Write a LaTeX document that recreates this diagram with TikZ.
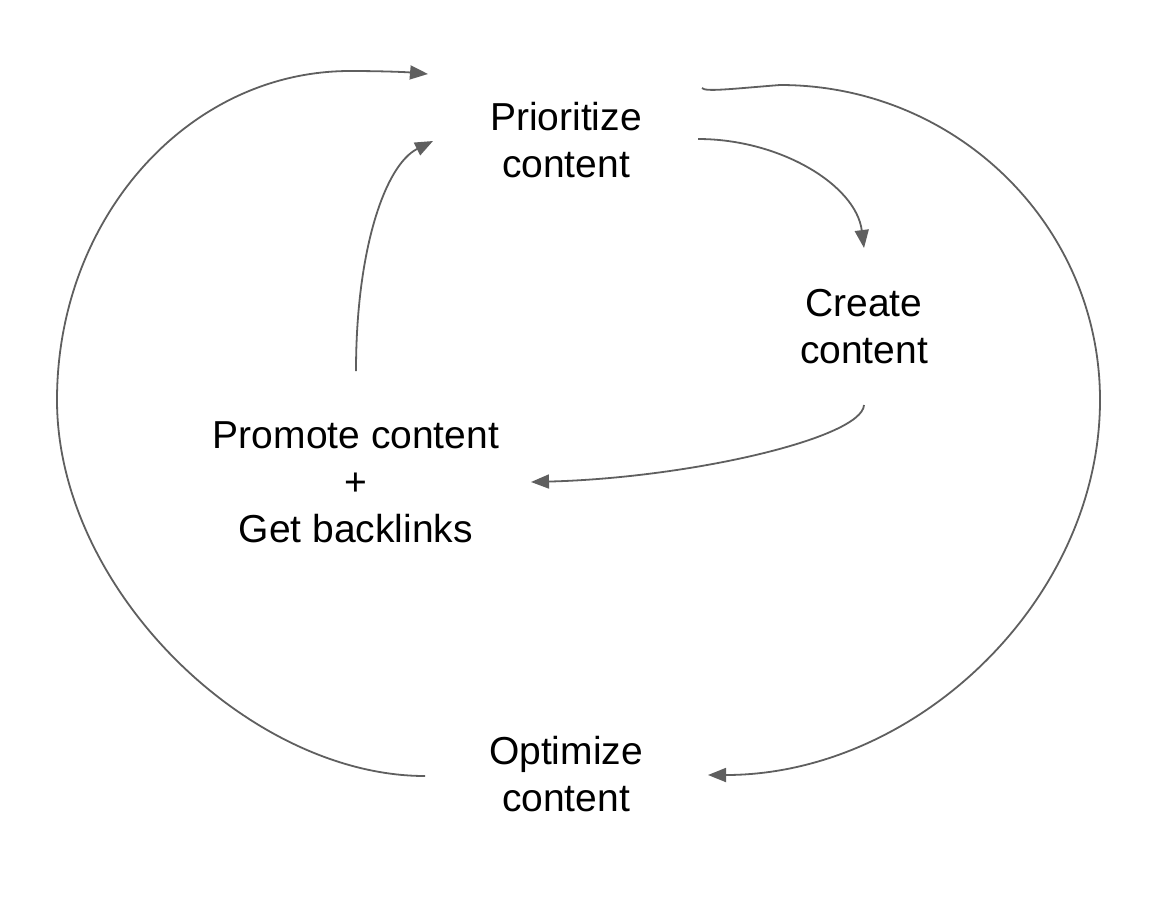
\documentclass[tikz,border=0pt]{standalone}
\usepackage{fontspec}
\setmainfont{Liberation Sans}
\usetikzlibrary{arrows.meta}
\definecolor{flowgray}{HTML}{5F5F5F}

\begin{document}
\begin{tikzpicture}[x=0.5pt, y=-0.5pt,
    task/.style = {align=center, inner sep=0pt, font={\fontsize{19.5}{23.5}\selectfont}},
    flow/.style = {draw=flowgray, line width=0.9pt, -{Triangle[length=9pt, width=7pt]}}]
        \useasboundingbox (0,0) rectangle (1166,916);
        \node[task] (prio)    at (566,140) {Prioritize\\content};
        \node[task] (create)  at (864,327) {Create\\content};
        \node[task] (promote) at (356,482) {Promote content\\+\\Get backlinks};
        \node[task] (opt)     at (566,774) {Optimize\\content};
        % inner loop
        \draw[flow] ([shift={(132,-1)}]prio.center) .. controls (780,139) and (856,185) .. ([shift={(0,-79)}]create.center);
        \draw[flow] ([shift={(0,78)}]create.center) .. controls (862,438) and (690,478) .. ([shift={(175,0)}]promote.center);
        \draw[flow] ([shift={(0,-111)}]promote.center) .. controls (356,250) and (385,165) .. ([shift={(-133,1)}]prio.center);
        % outer loop
        \draw[flow] ([shift={(-141,2)}]opt.center) .. controls (250,776) and (57,590) .. (57,400)
            .. controls (57,218) and (188,71) .. (350,71) .. controls (380,71) and (405,72) .. ([shift={(-138,-66)}]prio.center);
        \draw[flow] ([shift={(136,-52)}]prio.center) .. controls (705,92) and (730,89) .. (780,85)
            .. controls (957,85) and (1100,226) .. (1100,400) .. controls (1100,600) and (916,775) .. ([shift={(142,1)}]opt.center);
    \end{tikzpicture}
\end{document}
